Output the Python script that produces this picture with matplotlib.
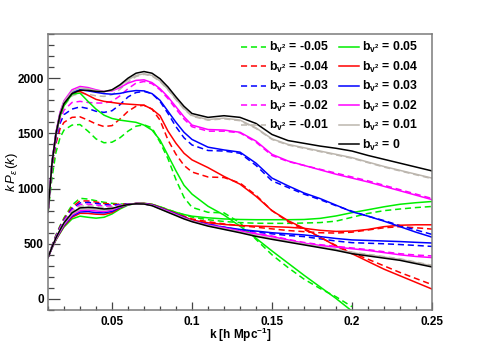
import numpy as np
import matplotlib
matplotlib.use("Agg")
import matplotlib.pyplot as plt
from matplotlib.lines import Line2D

plt.rcParams['font.family'] = ['Liberation Sans', 'DejaVu Sans']
plt.rcParams['mathtext.fontset'] = 'custom'
plt.rcParams['mathtext.rm'] = 'Liberation Sans'
plt.rcParams['mathtext.it'] = 'Liberation Sans:italic'
plt.rcParams['mathtext.bf'] = 'Liberation Sans:bold'
plt.rcParams['mathtext.default'] = 'it'

nan = np.nan
K = [0.01, 0.0125, 0.015, 0.0175, 0.02, 0.025, 0.03, 0.035, 0.04, 0.045, 0.05, 0.055,
     0.06, 0.065, 0.07, 0.075, 0.08, 0.085, 0.09, 0.095, 0.1, 0.11, 0.12, 0.13, 0.14,
     0.15, 0.16, 0.17, 0.18, 0.19, 0.2, 0.21, 0.22, 0.23, 0.24, 0.25]

bv2_values = [-0.05, -0.04, -0.03, -0.02, -0.01, 0.05, 0.04, 0.03, 0.02, 0.01, 0.0]
bv2_labels = ['-0.05', '-0.04', '-0.03', '-0.02', '-0.01', '0.05', '0.04', '0.03', '0.02', '0.01', '0']

# upper family of curves
up_m05 = [780, 1100, 1330, 1460, 1530, 1575, 1580, 1520, 1450, 1415, 1420, 1460, 1520, 1565, 1578, 1550, 1420, 1270, 1080, 920, 830, 785, 780, 690, 540, 400, 285, 180, 95, 20, -70, nan, nan, nan, nan, nan]
up_m04 = [784, 1180, 1410, 1540, 1600, 1645, 1650, 1620, 1585, 1562, 1570, 1630, 1700, 1745, 1755, 1720, 1620, 1440, 1310, 1210, 1150, 1105, 1100, 1050, 940, 800, 700, 630, 560, 485, 420, 360, 300, 240, 185, 130]
up_m03 = [786, 1200, 1440, 1590, 1670, 1720, 1740, 1725, 1700, 1690, 1705, 1760, 1830, 1870, 1880, 1860, 1790, 1680, 1560, 1460, 1395, 1345, 1340, 1320, 1210, 1070, 1010, 950, 900, 845, 795, 750, 710, 665, 625, 585]
up_m02 = [788, 1210, 1460, 1620, 1710, 1780, 1790, 1780, 1775, 1775, 1790, 1840, 1905, 1955, 1970, 1950, 1895, 1815, 1720, 1630, 1560, 1520, 1520, 1505, 1420, 1300, 1245, 1210, 1175, 1140, 1105, 1070, 1030, 990, 950, 910]
up_m01 = [788, 1220, 1480, 1650, 1750, 1840, 1865, 1855, 1840, 1835, 1850, 1900, 1965, 2015, 2035, 2020, 1970, 1895, 1805, 1720, 1655, 1620, 1632, 1615, 1545, 1445, 1395, 1365, 1335, 1305, 1275, 1235, 1195, 1160, 1125, 1090]
up_p05 = [790, 1230, 1490, 1650, 1750, 1855, 1865, 1790, 1720, 1665, 1635, 1620, 1610, 1600, 1575, 1530, 1440, 1300, 1160, 1030, 950, 840, 760, 660, 550, 435, 325, 215, 110, 5, -110, nan, nan, nan, nan, nan]
up_p04 = [790, 1235, 1500, 1670, 1775, 1875, 1880, 1845, 1808, 1790, 1780, 1770, 1765, 1760, 1755, 1720, 1660, 1520, 1410, 1320, 1260, 1190, 1110, 1040, 930, 800, 710, 640, 560, 480, 410, 340, 270, 210, 150, 90]
up_p03 = [790, 1240, 1505, 1680, 1785, 1875, 1895, 1885, 1872, 1860, 1855, 1862, 1878, 1888, 1885, 1860, 1800, 1700, 1600, 1510, 1445, 1375, 1350, 1330, 1230, 1095, 1025, 960, 910, 850, 790, 750, 705, 655, 605, 560]
up_p02 = [790, 1240, 1510, 1690, 1795, 1895, 1925, 1915, 1895, 1880, 1885, 1915, 1955, 1980, 1985, 1960, 1905, 1830, 1740, 1650, 1575, 1535, 1530, 1510, 1430, 1310, 1250, 1210, 1170, 1130, 1095, 1060, 1020, 980, 940, 900]
up_p01 = [790, 1235, 1505, 1680, 1785, 1880, 1912, 1905, 1888, 1880, 1890, 1930, 1985, 2025, 2040, 2025, 1975, 1900, 1810, 1725, 1662, 1625, 1638, 1620, 1550, 1450, 1400, 1370, 1340, 1310, 1280, 1240, 1200, 1165, 1130, 1095]
up_0 = [790, 1230, 1500, 1670, 1770, 1860, 1890, 1890, 1880, 1878, 1895, 1940, 2000, 2045, 2060, 2045, 1995, 1920, 1830, 1745, 1680, 1645, 1660, 1645, 1590, 1490, 1435, 1410, 1385, 1365, 1340, 1300, 1265, 1230, 1195, 1160]

# lower family of curves
lo_m05 = [378, 482, 580, 662, 735, 850, 912, 905, 890, 876, 866, 860, 860, 862, 862, 856, 835, 810, 785, 762, 742, 718, 702, 692, 686, 685, 685, 688, 692, 705, 740, 775, 800, 815, 828, 838]
lo_m04 = [377, 478, 575, 655, 725, 832, 888, 888, 878, 866, 858, 858, 860, 862, 862, 855, 832, 805, 778, 750, 725, 700, 680, 665, 650, 635, 620, 610, 600, 597, 605, 625, 645, 655, 645, 633]
lo_m03 = [376, 476, 570, 648, 716, 818, 870, 875, 866, 855, 850, 855, 860, 862, 860, 852, 828, 800, 772, 742, 712, 680, 650, 625, 605, 590, 575, 565, 545, 525, 510, 505, 500, 493, 485, 476]
lo_m02 = [376, 474, 565, 640, 708, 805, 855, 860, 852, 842, 840, 850, 858, 862, 860, 850, 825, 798, 768, 738, 710, 675, 648, 620, 595, 570, 540, 512, 492, 477, 462, 447, 428, 410, 398, 390]
lo_m01 = [375, 472, 560, 632, 700, 792, 840, 845, 838, 828, 830, 845, 857, 862, 860, 847, 818, 790, 762, 733, 708, 668, 638, 608, 576, 550, 525, 500, 475, 450, 424, 404, 384, 364, 334, 305]
lo_p05 = [375, 460, 535, 595, 652, 725, 750, 740, 732, 740, 770, 815, 850, 866, 867, 858, 835, 808, 785, 765, 750, 735, 725, 720, 718, 718, 718, 720, 730, 752, 782, 808, 835, 858, 872, 883]
lo_p04 = [375, 462, 538, 600, 660, 740, 776, 775, 768, 765, 782, 825, 855, 866, 866, 856, 830, 802, 775, 745, 715, 690, 675, 665, 660, 655, 650, 640, 622, 612, 615, 630, 655, 668, 672, 672]
lo_p03 = [375, 464, 543, 606, 668, 750, 788, 792, 782, 780, 793, 830, 855, 865, 864, 853, 826, 798, 770, 740, 705, 675, 650, 630, 615, 600, 590, 580, 565, 548, 535, 530, 525, 520, 513, 507]
lo_p02 = [375, 466, 547, 612, 675, 760, 800, 805, 797, 792, 805, 835, 855, 864, 862, 850, 822, 795, 765, 735, 705, 670, 645, 615, 590, 565, 535, 505, 485, 470, 455, 440, 420, 400, 385, 375]
lo_p01 = [375, 468, 550, 618, 682, 770, 813, 818, 812, 805, 815, 838, 855, 862, 860, 847, 818, 788, 760, 730, 705, 665, 636, 606, 574, 548, 523, 498, 473, 448, 420, 400, 380, 360, 330, 300]
lo_0 = [375, 470, 555, 625, 690, 780, 825, 830, 825, 815, 820, 840, 855, 862, 860, 845, 815, 785, 755, 725, 700, 660, 630, 600, 567, 540, 515, 490, 465, 440, 410, 390, 370, 350, 320, 290]

upper = [up_m05, up_m04, up_m03, up_m02, up_m01, up_p05, up_p04, up_p03, up_p02, up_p01, up_0]
lower = [lo_m05, lo_m04, lo_m03, lo_m02, lo_m01, lo_p05, lo_p04, lo_p03, lo_p02, lo_p01, lo_0]

colors = ['#00ee00', '#ff0000', '#0000ff', '#ff00ff', '#bcb6ae',
          '#00ee00', '#ff0000', '#0000ff', '#ff00ff', '#bcb6ae', '#000000']

fig = plt.figure(figsize=(4.8, 3.45), dpi=100)
ax = fig.add_axes([0.1, 0.1014, 0.8, 0.8])

handles = []
for i, (b, lab) in enumerate(zip(bv2_values, bv2_labels)):
    dashed = b < 0
    kw = dict(color=colors[i], lw=1.1)
    if dashed:
        kw['dashes'] = (4.0, 2.5)
    ax.plot(K, upper[i], **kw)
    ax.plot(K, lower[i], **kw)
    h = Line2D([], [], **kw)
    h.set_label(r'$\mathbf{b}_{\mathbf{v}^{\mathbf{2}}}$ = ' + lab)
    handles.append(h)

ax.set_xlim(0.01, 0.25)
ax.set_ylim(-100, 2400)
ax.set_xticks([0.05, 0.1, 0.15, 0.2, 0.25])
ax.set_xticklabels(['0.05', '0.1', '0.15', '0.2', '0.25'])
ax.set_xticks(np.arange(0.01, 0.2501, 0.01), minor=True)
ax.set_yticks([0, 500, 1000, 1500, 2000])
ax.set_yticks(np.arange(-100, 2401, 100), minor=True)

for lbl in ax.get_xticklabels() + ax.get_yticklabels():
    lbl.set_fontweight('bold')
    lbl.set_fontsize(8.5)

ax.tick_params(axis='x', which='major', direction='in', length=6, width=0.9, pad=4, color='#444444')
ax.tick_params(axis='x', which='minor', direction='in', length=3, width=0.9, color='#444444')
ax.tick_params(axis='y', which='major', direction='in', length=8.3, width=0.9, pad=3, color='#444444')
ax.tick_params(axis='y', which='minor', direction='in', length=4.2, width=0.9, color='#444444')
for s in ax.spines.values():
    s.set_color('#7a7a7a')
    s.set_linewidth(1.1)

ax.set_xlabel(r'k [h Mpc$^{\mathbf{-1}}$]', fontweight='bold', fontsize=8.5, va='top')
ax.xaxis.set_label_coords(0.5, -0.058)
ax.set_ylabel(r'$k\,P_{\varepsilon}\,(k)$', fontsize=9.5, va='center')
ax.yaxis.set_label_coords(-0.094, 0.5)

leg1 = ax.legend(handles=handles[:5], loc='upper left', bbox_to_anchor=(235 / 480, 1 - 34 / 345),
                 bbox_transform=fig.transFigure, frameon=False,
                 handlelength=2.0, handletextpad=0.25, labelspacing=0.36, borderpad=0,
                 prop={'weight': 'bold', 'size': 8.8})
ax.add_artist(leg1)
leg2 = ax.legend(handles=handles[5:], loc='upper left', bbox_to_anchor=(333 / 480, 1 - 34 / 345),
                 bbox_transform=fig.transFigure, frameon=False,
                 handlelength=1.6, handletextpad=0.25, labelspacing=0.36, borderpad=0,
                 prop={'weight': 'bold', 'size': 8.8})

fig.savefig('out.png', dpi=100)
